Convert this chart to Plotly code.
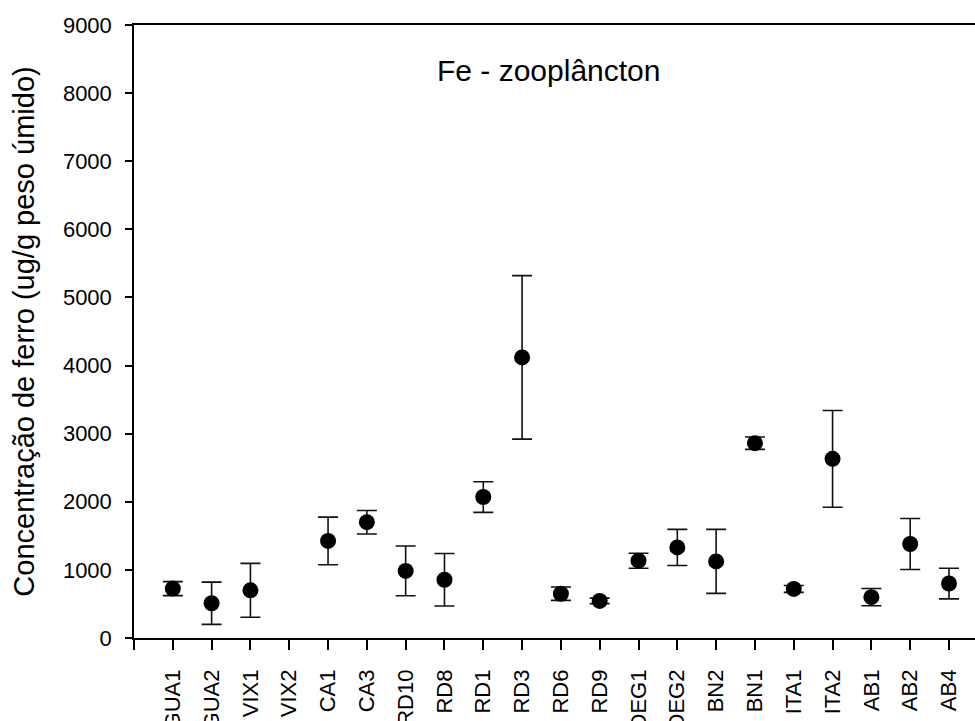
import plotly.graph_objects as go

categories = ["GUA1", "GUA2", "VIX1", "VIX2", "CA1", "CA3", "RD10", "RD8", "RD1", "RD3",
              "RD6", "RD9", "DEG1", "DEG2", "BN2", "BN1", "ITA1", "ITA2", "AB1", "AB2", "AB4"]
means = [725, 510, 700, None, 1425, 1700, 985, 855, 2070, 4120,
         650, 545, 1135, 1330, 1125, 2860, 720, 2630, 600, 1380, 800]
errors = [103, 310, 395, None, 350, 172, 365, 385, 225, 1200,
          98, 40, 110, 265, 470, 90, 50, 710, 127, 375, 225]
y_ticks = [0, 1000, 2000, 3000, 4000, 5000, 6000, 7000, 8000, 9000]

positions = list(range(len(categories)))
FONT = "Liberation Sans, Arial, sans-serif"

fig = go.Figure()
fig.add_trace(go.Scatter(
    x=positions, y=means, mode="markers",
    marker=dict(symbol="circle", size=16, color="black"),
    error_y=dict(type="data", array=errors, visible=True,
                 color="#111111", thickness=1.6, width=10),
    showlegend=False, hoverinfo="skip",
))

fig.update_layout(
    width=975, height=721,
    margin=dict(l=134, r=0, t=25, b=83),
    paper_bgcolor="white", plot_bgcolor="white",
    font=dict(family=FONT, color="black"),
    xaxis=dict(
        range=[-1, 20.67],
        tickmode="array",
        tickvals=[-1] + positions,
        ticktext=[""] + categories,
        tickangle=-90,
        tickfont=dict(size=22, family=FONT, color="black"),
        ticks="outside", ticklen=10, tickwidth=1.5, tickcolor="black",
        ticklabelstandoff=11,
        showline=True, linecolor="black", linewidth=1.5,
        mirror=True, showgrid=False, zeroline=False,
        automargin=False,
    ),
    yaxis=dict(
        range=[0, 9000],
        tickmode="array", tickvals=y_ticks,
        tickfont=dict(size=22, family=FONT, color="black"),
        ticks="outside", ticklen=7, tickwidth=1.5, tickcolor="black",
        ticklabelstandoff=9,
        showline=True, linecolor="black", linewidth=1.5,
        mirror=False, showgrid=False, zeroline=False,
        automargin=False,
        title=dict(text="Concentração de ferro (ug/g peso úmido)",
                   font=dict(size=29, family=FONT, color="black"),
                   standoff=20),
    ),
    annotations=[dict(
        text="Fe - zooplâncton", xref="paper", yref="paper",
        x=0.4923, y=0.926, xanchor="center", yanchor="middle",
        showarrow=False, font=dict(size=30, family=FONT, color="black"),
    )],
)

fig.write_html("out.html")
